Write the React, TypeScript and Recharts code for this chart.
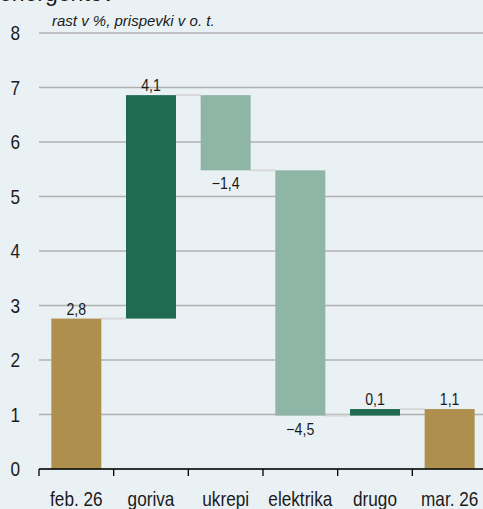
import React from 'react';
import { ComposedChart, Bar, XAxis, YAxis, CartesianGrid, Cell, LabelList } from 'recharts';

const categories = ['feb. 26', 'goriva', 'ukrepi', 'elektrika', 'drugo', 'mar. 26'];
const changes = [2.76, 4.1, -1.38, -4.5, 0.12, 1.1];
const valueLabels = ['2,8', '4,1', '\u22121,4', '\u22124,5', '0,1', '1,1'];
const kinds = ['total', 'up', 'down', 'down', 'up', 'total'];
const yTicks = [0, 1, 2, 3, 4, 5, 6, 7, 8];

const COLORS: Record<string, string> = { total: '#AF8F4D', up: '#1F6A50', down: '#8FB5A7' };
const BG = '#EAF1F5';
const SANS = "'Liberation Sans', Arial, sans-serif";
const SQUEEZE = 0.86;

const CHART_W = 490;
const CHART_H = 509;
const PLOT_LEFT = 39;
const PLOT_RIGHT = 487;
const BAND = (PLOT_RIGHT - PLOT_LEFT) / categories.length;
const AXIS_Y = 469;

let running = 0;
const data = categories.map((name, i) => {
  const kind = kinds[i];
  let start: number;
  let end: number;
  if (kind === 'total') {
    start = 0;
    end = changes[i];
  } else {
    start = running;
    end = running + changes[i];
  }
  running = end;
  return {
    name,
    base: Math.min(start, end),
    size: Math.abs(end - start),
    neg: changes[i] < 0,
    kind,
    label: valueLabels[i],
    idx: i,
  };
});

const NarrowText = ({ x, y, anchor, size, children }: any) => (
  <text
    transform={`translate(${x},${y}) scale(${SQUEEZE},1)`}
    x={0}
    y={0}
    textAnchor={anchor}
    fontSize={size}
    fill="#1a1a1a"
    fontFamily={SANS}
  >
    {children}
  </text>
);

const BarShape = (props: any) => {
  const { x, y, width, height, payload } = props;
  const fill = COLORS[payload.kind];
  const idx = payload.idx;
  const levelY = payload.neg ? y + height : y;
  return (
    <g>
      {idx < categories.length - 1 && (
        <line x1={x + width} x2={x + BAND} y1={levelY} y2={levelY} stroke="#D8D8D8" strokeWidth={2} />
      )}
      <rect x={x} y={y} width={width} height={height} fill={fill} />
    </g>
  );
};

const ValueLabel = (props: any) => {
  const { x, y, width, height, index } = props;
  const d = data[index];
  const cx = x + width / 2;
  const ty = d.neg ? y + height + 19 : y - 4;
  return (
    <NarrowText x={cx} y={ty} anchor="middle" size={16.5}>
      {d.label}
    </NarrowText>
  );
};

const XTick = (props: any) => {
  const { x, payload } = props;
  const bx = x - BAND / 2;
  return (
    <g>
      <line x1={bx} x2={bx} y1={AXIS_Y} y2={AXIS_Y + 7} stroke="#000" strokeWidth={1.3} />
      <NarrowText x={x} y={AXIS_Y + 37} anchor="middle" size={20}>
        {payload.value}
      </NarrowText>
    </g>
  );
};

const YTick = (props: any) => {
  const { y, payload } = props;
  return (
    <NarrowText x={20} y={y + 7} anchor="end" size={20}>
      {payload.value}
    </NarrowText>
  );
};

export default function App() {
  return (
    <div style={{ position: 'fixed', left: 0, top: 0, width: 483, height: 509, overflow: 'hidden', background: BG }}>
      <div style={{ position: 'absolute', left: -1, top: -20, fontSize: 23, fontFamily: SANS, color: '#1a1a1a', lineHeight: '26px', whiteSpace: 'nowrap' }}>
        energentov
      </div>
      <div style={{ position: 'absolute', left: 52, top: 12, fontSize: 15, fontStyle: 'italic', fontFamily: SANS, color: '#1a1a1a', lineHeight: '18px', whiteSpace: 'nowrap' }}>
        rast v %, prispevki v o. t.
      </div>
      <ComposedChart
        width={CHART_W}
        height={CHART_H}
        data={data}
        margin={{ top: 33, right: CHART_W - PLOT_RIGHT, left: 0, bottom: 0 }}
        barCategoryGap="16.5%"
      >
        <CartesianGrid vertical={false} stroke="#B0B0B0" strokeWidth={1.6} />
        <XAxis
          dataKey="name"
          height={CHART_H - AXIS_Y}
          interval={0}
          axisLine={{ stroke: '#000', strokeWidth: 1.3 }}
          tickLine={false}
          tick={<XTick />}
        />
        <YAxis
          width={PLOT_LEFT}
          domain={[0, 8]}
          ticks={yTicks}
          interval={0}
          axisLine={false}
          tickLine={false}
          tick={<YTick />}
        />
        <Bar dataKey="base" stackId="w" fill="transparent" isAnimationActive={false} />
        <Bar dataKey="size" stackId="w" isAnimationActive={false} shape={<BarShape />}>
          {data.map((d, i) => (
            <Cell key={i} fill={COLORS[d.kind]} />
          ))}
          <LabelList dataKey="size" content={<ValueLabel />} />
        </Bar>
      </ComposedChart>
    </div>
  );
}
